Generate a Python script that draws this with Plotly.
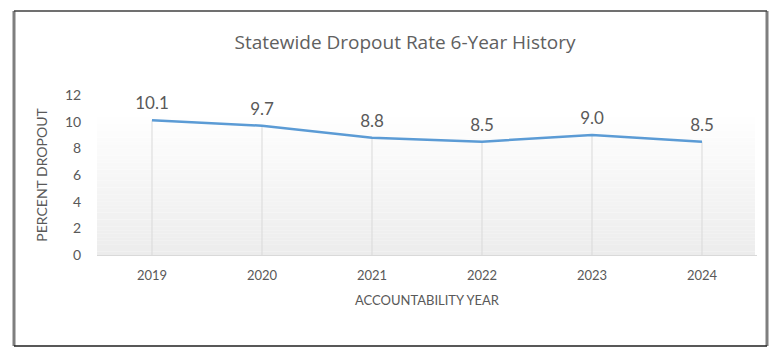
import plotly.graph_objects as go

years = ["2019", "2020", "2021", "2022", "2023", "2024"]
rates = [10.1, 9.7, 8.8, 8.5, 9.0, 8.5]
y_ticks = [0, 2, 4, 6, 8, 10, 12]

TEXT = "#595959"
FONT = "Lato, 'Open Sans', sans-serif"

# drop lines built from data
dx, dy = [], []
for yr, v in zip(years, rates):
    dx += [yr, yr, None]
    dy += [0, v, None]

fig = go.Figure()
fig.add_trace(go.Scatter(x=dx, y=dy, mode="lines",
                         line=dict(color="#d9d9d9", width=1),
                         hoverinfo="skip", showlegend=False))
fig.add_trace(go.Scatter(x=years, y=rates, mode="lines+markers+text",
                         text=[f"{v:.1f}" for v in rates],
                         textposition="top center",
                         textfont=dict(size=17, color=TEXT, family=FONT),
                         marker=dict(size=9, color="rgba(0,0,0,0)"),
                         line=dict(color="#5b9bd5", width=2.5),
                         cliponaxis=False,
                         showlegend=False))

# gradient plot background (bands)
shapes = []
top = (255 - 113) / 160
n = 40
for i in range(n):
    y0 = top * i / n
    y1 = top * (i + 1) / n
    t = (i + 0.5) / n  # 0 bottom -> 1 top
    c = int(round(236 + (255 - 236) * t))
    shapes.append(dict(type="rect", xref="paper", yref="paper",
                       x0=0, x1=(755 - 97) / 660, y0=y0, y1=y1,
                       fillcolor=f"rgb({c},{c},{c})", line=dict(width=0),
                       layer="below"))

# outer frame (screen pixel positions -> paper coords)
def px(x):
    return (x - 97) / 660

def py(y):
    return (255 - y) / 160

L, R, T, B = 14, 767, 11, 346
shapes += [
    dict(type="line", xref="paper", yref="paper", x0=px(L), x1=px(L), y0=py(T), y1=py(B),
         line=dict(color="#7f7f7f", width=3)),
    dict(type="line", xref="paper", yref="paper", x0=px(R), x1=px(R), y0=py(T), y1=py(B),
         line=dict(color="#7f7f7f", width=3)),
    dict(type="line", xref="paper", yref="paper", x0=px(L), x1=px(R), y0=py(T), y1=py(T),
         line=dict(color="#404040", width=1.5)),
    dict(type="line", xref="paper", yref="paper", x0=px(L), x1=px(R), y0=py(B), y1=py(B),
         line=dict(color="#202020", width=1.5)),
]

W, H = 771, 352  # page has 8px body margin
fig.update_layout(
    width=W, height=H,
    margin=dict(l=89, r=22, t=87, b=105),
    paper_bgcolor="white", plot_bgcolor="rgba(0,0,0,0)",
    font=dict(family=FONT, color=TEXT, size=13),
    title=dict(text="Statewide Dropout Rate 6-Year History",
               x=397 / W, xanchor="center", y=1 - 34 / H, yanchor="middle",
               font=dict(size=19, color="#606060", family="'Open Sans', Lato, sans-serif")),
    shapes=shapes,
    xaxis=dict(type="category", categoryorder="array", categoryarray=years,
               range=[-0.5, 5.5], showgrid=False, zeroline=False,
               showline=True, linecolor="#d9d9d9", linewidth=1,
               ticks="outside", ticklen=8, tickcolor="rgba(0,0,0,0)",
               tickfont=dict(size=13, color=TEXT),
               title=dict(text="ACCOUNTABILITY YEAR", standoff=14,
                          font=dict(size=13, color=TEXT))),
    yaxis=dict(range=[0, 12], tickvals=y_ticks, showgrid=False, zeroline=False,
               showline=False, ticks="outside", ticklen=12,
               tickcolor="rgba(0,0,0,0)", tickfont=dict(size=14, color=TEXT),
               title=dict(text="PERCENT DROPOUT", standoff=14,
                          font=dict(size=14, color=TEXT))),
)

fig.write_html("out.html")
